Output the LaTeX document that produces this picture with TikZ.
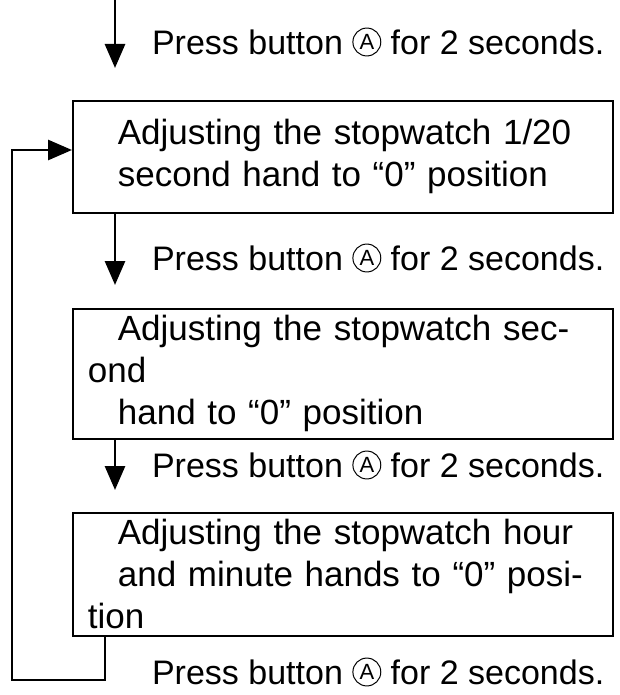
\documentclass[tikz,border=0pt]{standalone}
\usepackage{fontspec}
\setmainfont{Liberation Sans}
\usetikzlibrary{arrows.meta,positioning}
\newcommand{\btnA}{\tikz[baseline=-0.37em]\node[circle, draw, line width=0.5pt, inner sep=1.2pt, font=\fontsize{11}{11}\selectfont]{A};}
\begin{document}
\begin{tikzpicture}[
    x=0.5pt, y=-0.5pt,
    stepbox/.style={rectangle, draw=black, line width=0.9pt, minimum width=270pt, minimum height=56pt, inner xsep=0pt, text width=255pt, align=left, font=\fontsize{17.5}{21}\selectfont, anchor=north west},
    press/.style={anchor=west, font=\fontsize{17}{20}\selectfont},
    arrow/.style={-{Triangle[length=12pt,width=10pt]}, line width=1.4pt}
]
\useasboundingbox (0,0) rectangle (620,695);

% Boxes
\node[stepbox] (hund) at (72,100) {\hspace*{15pt}Adjusting the stopwatch 1/20\\\hspace*{15pt}second hand to ``0'' position};
\node[stepbox] (sec) at (72,308) {\hspace*{15pt}Adjusting the stopwatch second\\\hspace*{15pt}hand to ``0'' position};
\node[stepbox, minimum height=60pt] (hour) at (72,512) {\hspace*{15pt}Adjusting the stopwatch hour\\\hspace*{15pt}and minute hands to ``0'' position};

% Entry and step arrows
\coordinate (start) at (115,0);
\draw[arrow] (start) -- (115,68);
\draw[arrow] (hund.south -| start) -- (115,285);
\draw[arrow] (sec.south -| start) -- (115,490);

% Labels
\node[press] (p1) at (145,42) {Press button \btnA\ for 2 seconds.};
\node[press] (p2) at (145,258) {Press button \btnA\ for 2 seconds.};
\node[press] (p3) at (145,465) {Press button \btnA\ for 2 seconds.};
\node[press] (p4) at (145,672) {Press button \btnA\ for 2 seconds.};

% Loop back
\coordinate (loop) at (105,0);
\draw[arrow] (hour.south -| loop) -- (105,680) -- (12,680) -- (12,150) -- (hund.west |- 0,150);
\end{tikzpicture}
\end{document}
